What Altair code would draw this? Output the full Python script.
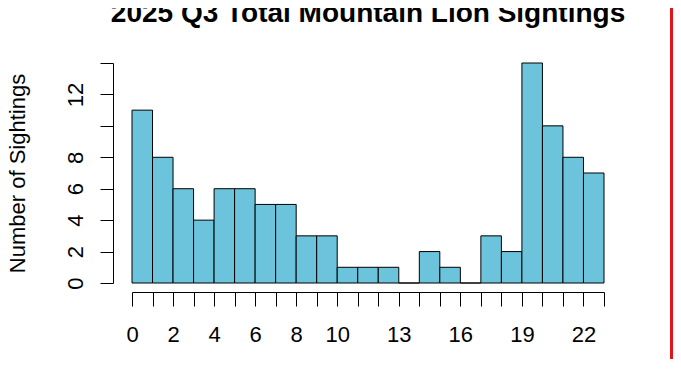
import json
import altair as alt
import pandas as pd

# ---- data ----
bin_starts = list(range(23))
counts = [11, 8, 6, 4, 6, 6, 5, 5, 3, 3, 1, 1, 1, 0, 2, 1, 0, 3, 2, 14, 10, 8, 7]
x_ticks = list(range(24))
x_labels = [0, 2, 4, 6, 8, 10, 13, 16, 19, 22]
y_ticks = [0, 2, 4, 6, 8, 10, 12, 14]
y_labels = [0, 2, 4, 6, 8, 12]

title_text = "2025 Q3 Total Mountain Lion Sightings"
y_title = "Number of Sightings"

df = pd.DataFrame({
    "start": bin_starts,
    "end": [s + 1 for s in bin_starts],
    "count": counts,
})

FONT = "Liberation Sans"
BAR = "#6CC4DC"
RED = "#E0161D"

x_axis = alt.Axis(
    values=x_ticks,
    labelExpr=f"indexof({json.dumps(x_labels)}, datum.value) >= 0 ? datum.label : ''",
    offset=9,
    tickSize=14,
    labelPadding=18,
    labelFontSize=22,
    labelFont=FONT,
    labelColor="black",
    labelOverlap=False,
    labelFlush=False,
    domainColor="black",
    tickColor="black",
    grid=False,
    title=None,
)

y_axis = alt.Axis(
    values=y_ticks,
    labelExpr=f"indexof({json.dumps(y_labels)}, datum.value) >= 0 ? datum.label : ''",
    offset=19,
    tickSize=13,
    labelAngle=270,
    labelAlign="center",
    labelBaseline="alphabetic",
    labelPadding=18,
    labelFontSize=22,
    labelFont=FONT,
    labelColor="black",
    labelOverlap=False,
    labelFlush=False,
    domainColor="black",
    tickColor="black",
    grid=False,
    title=y_title,
    titleFont=FONT,
    titleFontSize=22,
    titleFontWeight="normal",
    titleColor="black",
    titleAngle=270,
    titleAlign="center",
    titleBaseline="middle",
    titleX=-96,
    titleY=110,
)

bars = alt.Chart(df).mark_rect(fill=BAR, stroke="black", strokeWidth=1).encode(
    x=alt.X("start:Q", scale=alt.Scale(domain=[0, 23], nice=False, zero=False), axis=x_axis),
    x2="end:Q",
    y=alt.Y("count:Q", scale=alt.Scale(domain=[0, 14], nice=False), axis=y_axis),
    y2=alt.datum(0),
)

title_df = pd.DataFrame({"t": [title_text]})
title_mark = alt.Chart(title_df).mark_text(
    font=FONT, fontSize=28, fontWeight="bold", color="black",
    align="center", baseline="alphabetic",
).encode(text="t:N", x=alt.value(236), y=alt.value(-41))

one = pd.DataFrame({"a": [0]})
right_edge = alt.Chart(one).mark_rule(color=RED, strokeWidth=3).encode(
    x=alt.value(539.5), y=alt.value(-55), y2=alt.value(300)
)

chart = alt.layer(bars, title_mark, right_edge).properties(
    width=472,
    height=220,
    autosize=alt.AutoSizeParams(type="none"),
    padding={"left": 124, "top": 55, "right": 69, "bottom": 76},
).configure(background="white").configure_view(strokeWidth=0, stroke=None)

chart.save("out.html", embed_options={"renderer": "svg", "actions": False})
